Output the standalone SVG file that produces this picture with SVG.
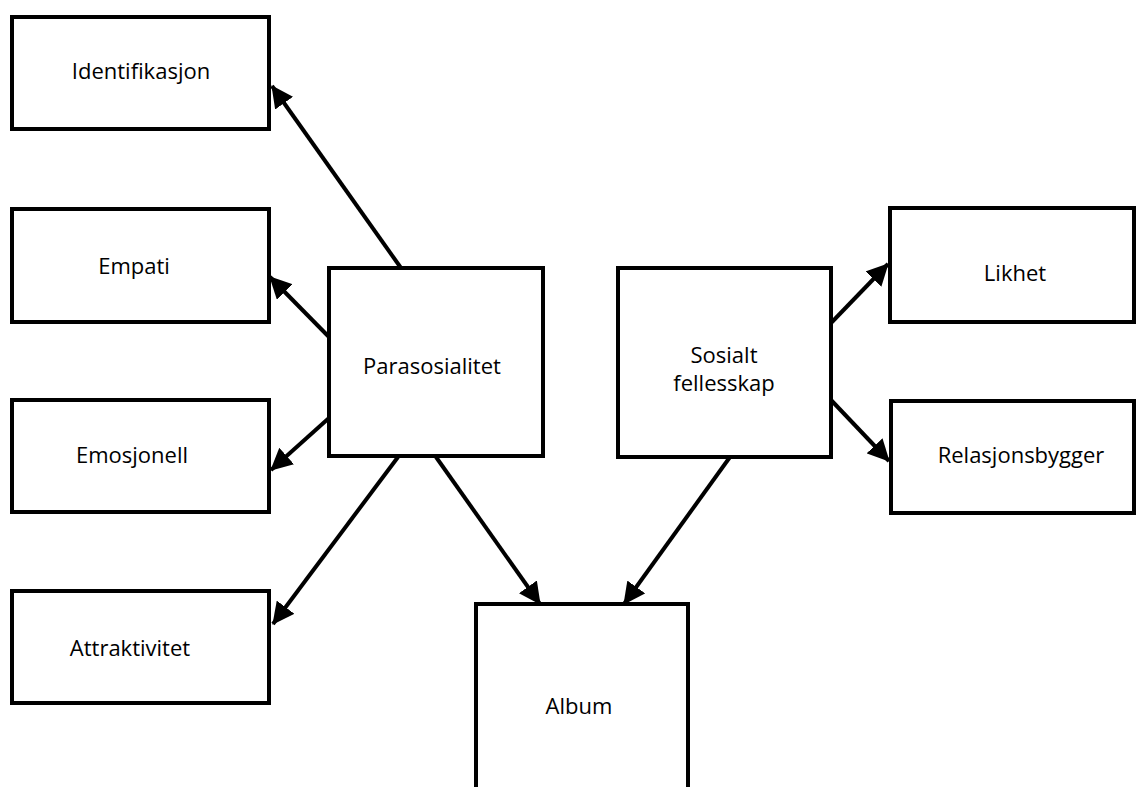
<svg xmlns="http://www.w3.org/2000/svg" width="1136" height="787" viewBox="0 0 1136 787">
<style>
.box{fill:#fff;stroke:#000;stroke-width:4}
.lbl{font-family:"Open Sans","Noto Sans","Liberation Sans",sans-serif;font-size:22px;fill:#000;text-anchor:middle}
.edge{stroke:#000;stroke-width:4;fill:none;marker-end:url(#arr)}
</style>
<defs>
<marker id="arr" markerUnits="userSpaceOnUse" markerWidth="22" markerHeight="22" refX="21" refY="11" orient="auto" viewBox="0 0 22 22">
<path d="M0,0 L22,11 L0,22 z" fill="#000"/>
</marker>
</defs>
<rect width="1136" height="787" fill="#fff"/>
<g id="connectors">
<line class="edge" x1="401" y1="268" x2="272" y2="86"/>
<line class="edge" x1="329" y1="337" x2="270" y2="277"/>
<line class="edge" x1="329" y1="418" x2="271" y2="470"/>
<line class="edge" x1="398" y1="457" x2="273" y2="624"/>
<line class="edge" x1="436" y1="457" x2="540" y2="604"/>
<line class="edge" x1="730" y1="457" x2="624" y2="604"/>
<line class="edge" x1="831" y1="323" x2="888" y2="264"/>
<line class="edge" x1="831" y1="400" x2="889" y2="461"/>
</g>
<g id="identifikasjon"><rect class="box" x="12" y="17" width="257" height="112"/><text class="lbl" x="141" y="79">Identifikasjon</text></g>
<g id="empati"><rect class="box" x="12" y="209" width="257" height="113"/><text class="lbl" x="134" y="274">Empati</text></g>
<g id="emosjonell"><rect class="box" x="12" y="400" width="257" height="112"/><text class="lbl" x="132" y="463">Emosjonell</text></g>
<g id="attraktivitet"><rect class="box" x="12" y="591" width="257" height="112"/><text class="lbl" x="130" y="656">Attraktivitet</text></g>
<g id="parasosialitet"><rect class="box" x="329" y="268" width="214" height="188"/><text class="lbl" x="432" y="374">Parasosialitet</text></g>
<g id="sosialt"><rect class="box" x="618" y="268" width="213" height="189"/><text class="lbl" x="724" y="363">Sosialt</text><text class="lbl" x="724" y="391">fellesskap</text></g>
<g id="likhet"><rect class="box" x="890" y="208" width="244" height="114"/><text class="lbl" x="1015" y="281">Likhet</text></g>
<g id="relasjonsbygger"><rect class="box" x="891" y="401" width="243" height="112"/><text class="lbl" x="1021" y="463">Relasjonsbygger</text></g>
<g id="album"><rect class="box" x="476" y="604" width="212" height="200"/><text class="lbl" x="579" y="714">Album</text></g>
</svg>
